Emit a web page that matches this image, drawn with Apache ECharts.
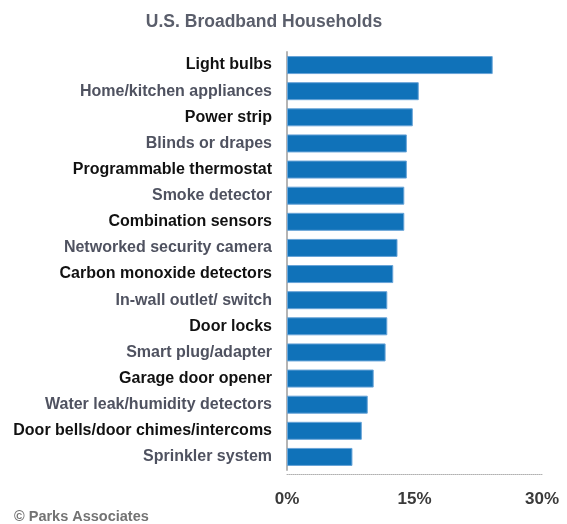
<!DOCTYPE html>
<html>
<head>
<meta charset="utf-8">
<script src="https://cdn.jsdelivr.net/npm/echarts@6/dist/echarts.min.js"></script>
<style>
  html, body { margin: 0; padding: 0; background: #fff; }
  #chart { width: 567px; height: 524px; }
</style>
</head>
<body>
<div id="chart"></div>
<script>
var categories = [
  'Light bulbs',
  'Home/kitchen appliances',
  'Power strip',
  'Blinds or drapes',
  'Programmable thermostat',
  'Smoke detector',
  'Combination sensors',
  'Networked security camera',
  'Carbon monoxide detectors',
  'In-wall outlet/ switch',
  'Door locks',
  'Smart plug/adapter',
  'Garage door opener',
  'Water leak/humidity detectors',
  'Door bells/door chimes/intercoms',
  'Sprinkler system'
];
var values = [24.2, 15.5, 14.8, 14.1, 14.1, 13.8, 13.8, 13.0, 12.5, 11.8, 11.8, 11.6, 10.2, 9.5, 8.8, 7.7];
var xTicks = [0, 15, 30];

var font = '"Liberation Sans", Arial, sans-serif';

var chart = echarts.init(document.getElementById('chart'));
var option = {
  animation: false,
  title: {
    text: 'U.S. Broadband Households',
    left: 259,
    top: 8,
    textAlign: 'center',
    textStyle: { fontFamily: font, fontSize: 17.5, fontWeight: 'bold', color: '#5a5e6b' }
  },
  graphic: [{
    type: 'text',
    left: 14,
    top: 509,
    style: { text: '\u00a9 Parks Associates', fontFamily: font, fontSize: 14.5, fontWeight: 'bold', fill: '#737373' }
  }],
  grid: { left: 287, right: 25, top: 52, bottom: 54, containLabel: false, outerBoundsMode: 'none' },
  xAxis: {
    type: 'value',
    min: xTicks[0],
    max: xTicks[xTicks.length - 1],
    interval: 15,
    offset: 4,
    axisLine: { show: true, lineStyle: { color: '#b0b0b0', type: 'dotted', width: 1 } },
    axisTick: { show: false },
    splitLine: { show: false },
    axisLabel: {
      margin: 17,
      formatter: '{value}%',
      fontFamily: font,
      fontSize: 17,
      fontWeight: 'bold',
      color: '#3a3a3a'
    }
  },
  yAxis: {
    type: 'category',
    inverse: true,
    data: categories,
    axisLine: { show: true, lineStyle: { color: '#b5b5b5', width: 2 } },
    axisTick: { show: false },
    axisLabel: {
      margin: 15,
      formatter: function (v, i) { return (i % 2 === 0 ? '{b|' : '{r|') + v + '}'; },
      rich: {
        b: { fontFamily: font, fontSize: 16, fontWeight: 'bold', color: '#111111' },
        r: { fontFamily: font, fontSize: 16, fontWeight: 'bold', color: '#4f5260' }
      }
    }
  },
  series: [{
    type: 'bar',
    data: values,
    barCategoryGap: '31%',
    itemStyle: { color: '#1072b9', borderColor: '#68a4d8', borderWidth: 1 }
  }]
};
chart.setOption(option);
</script>
</body>
</html>
